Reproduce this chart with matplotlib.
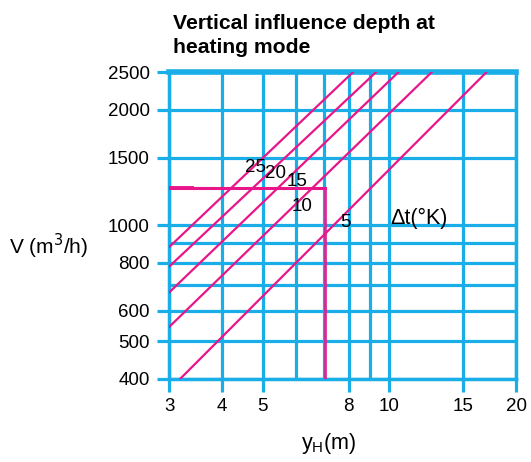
import numpy as np
import matplotlib.pyplot as plt
from matplotlib.ticker import FixedLocator, NullFormatter

### Daten
dt_labels = ["5", "10", "15", "20", "25"]
yh_start  = [3.19, 3.0, 3.0, 3.0, 3.0]          # y_H (m) am Anfang der Linie
v_start   = [400, 545, 670, 782, 879]           # V (m3/h) am Anfang
yh_end    = [17.0, 12.6, 10.5, 9.29, 8.19]      # y_H (m) am Ende
v_end     = [2500, 2500, 2500, 2500, 2500]      # V (m3/h) am Ende

# Ablesebeispiel
v_read  = 1250
yh_read = 7.05

x_ticks  = [3, 4, 5, 8, 10, 15, 20]
x_grid   = [6, 7, 9]
y_ticks  = [400, 500, 600, 800, 1000, 1500, 2000, 2500]
y_grid   = [700, 900]

# Position der Beschriftungen (Datenkoordinaten)
lbl_x = [7.88, 6.19, 6.05, 5.36, 4.8]
lbl_y = [1017, 1118, 1299, 1368, 1415]

blue = "#19aee8"
pink = "#e8168a"

plt.rcParams['font.family'] = ['Liberation Sans', 'DejaVu Sans']

fig = plt.figure(figsize=(5.31, 4.62), dpi=100)
ax = fig.add_axes([0.3188, 0.1807, 0.6530, 0.6628])
ax.set_xscale("log")
ax.set_yscale("log")
ax.set_xlim(3, 20)
ax.set_ylim(400, 2500)

ax.xaxis.set_major_locator(FixedLocator(x_ticks))
ax.xaxis.set_minor_locator(FixedLocator(x_grid))
ax.yaxis.set_major_locator(FixedLocator(y_ticks))
ax.yaxis.set_minor_locator(FixedLocator(y_grid))
ax.set_xticklabels([str(t) for t in x_ticks])
ax.set_yticklabels([str(t) for t in y_ticks])
ax.xaxis.set_minor_formatter(NullFormatter())
ax.yaxis.set_minor_formatter(NullFormatter())

ax.grid(True, which="both", color=blue, lw=2.3, zorder=1)
ax.set_axisbelow(True)
ax.tick_params(which="major", direction="out", length=9, width=2.3, color=blue,
               labelsize=13.5, pad=5)
ax.tick_params(which="minor", length=0)
for s in ax.spines.values():
    s.set_color(blue)
    s.set_linewidth(2.5)
ax.spines["top"].set_linewidth(4)

# Linien Delta t
for i in range(len(dt_labels)):
    ax.plot([yh_start[i], yh_end[i]], [v_start[i], v_end[i]], color=pink, lw=1.6,
            zorder=3, clip_on=True)
    ax.text(lbl_x[i], lbl_y[i], dt_labels[i], fontsize=13.5, ha="center", va="center", zorder=4)

ax.text(10.05, 1040, "Δt(°K)", fontsize=15.5, ha="left", va="center")

# Ablesebeispiel
ax.plot([3, yh_read], [v_read, v_read], color=pink, lw=2.2, zorder=3)
ax.plot([3, 3.4], [v_read, v_read], color=pink, lw=2.8, zorder=3)
ax.plot([yh_read, yh_read], [v_read, 400], color=pink, lw=2.2, alpha=0.8, zorder=3)

ax.set_ylabel("V (m$^3$/h)", fontsize=15, rotation=0, ha="center", va="center")
ax.yaxis.set_label_coords(-0.347, 0.43)
ax.set_xlabel("y$_\\mathregular{H}$(m)", fontsize=15.5)
ax.xaxis.set_label_coords(0.46, -0.17)

fig.text(0.326, 0.923, "Vertical influence depth at\nheating mode", fontsize=15.2,
         fontweight="bold", ha="left", va="center", linespacing=1.3)

fig.savefig("out.png", dpi=100)
